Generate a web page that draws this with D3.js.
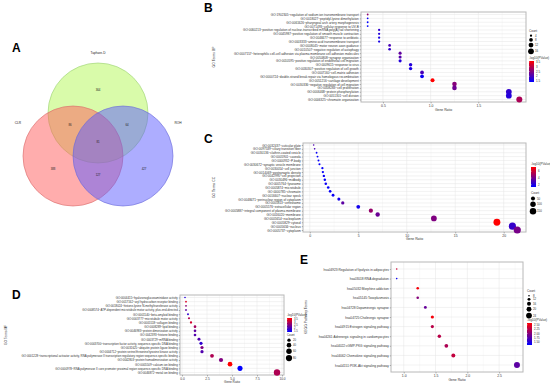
<!DOCTYPE html>
<html><head><meta charset="utf-8">
<script src="https://cdn.jsdelivr.net/npm/d3@7"></script>
<style>body{margin:0;background:#fff}svg{display:block}text{font-family:"Liberation Sans",Arial,sans-serif}</style>
</head><body><svg id="c" width="550" height="387"></svg>
<script>
// ---------- Venn (A) ----------
const vennSets = ["Taphare-D","CLR","ROH"];
const vennCounts = ["364","86","64","81","388","127","427"]; // green only, G∩R, G∩B, center, R only, R∩B, B only

// ---------- B : GO BP ----------
const bTerms = ["GO:1902305~regulation of sodium ion transmembrane transport","GO:0018027~peptidyl-lysine dimethylation","GO:0061626~pharyngeal arch artery morphogenesis","GO:0071493~cellular response to UV-B","GO:0060213~positive regulation of nuclear-transcribed mRNA poly(A) tail shortening","GO:0045987~positive regulation of smooth muscle contraction","GO:0046677~response to antibiotic","GO:0003333~amino acid transmembrane transport","GO:0008045~motor neuron axon guidance","GO:0010507~negative regulation of autophagy","GO:0007157~heterophilic cell-cell adhesion via plasma membrane cell adhesion molecules","GO:0050808~synapse organization","GO:0010595~positive regulation of endothelial cell migration","GO:0009615~response to virus","GO:0030307~positive regulation of cell growth","GO:0007160~cell-matrix adhesion","GO:0000724~double-strand break repair via homologous recombination","GO:0051216~cartilage development","GO:0030336~negative regulation of cell migration","GO:0008283~cell proliferation","GO:0006468~protein phosphorylation","GO:0051301~cell division","GO:0006325~chromatin organization"];
const bRatio = [0.34,0.34,0.34,0.34,0.46,0.46,0.46,0.46,0.57,0.57,0.68,0.68,0.68,0.79,0.79,0.91,0.91,1.02,1.25,1.25,1.82,1.82,1.93];
const bCount = [3,3,3,3,4,4,4,4,5,5,6,6,6,7,7,8,8,9,11,11,16,16,17];
const bLogP = [2.6,1.5,1.4,1.4,1.8,1.7,1.6,1.6,2.0,1.8,2.2,2.1,1.7,1.7,1.6,2.0,1.5,3.5,2.5,2.3,1.8,1.7,2.8];
const bXTicks = [0.5,1.0,1.5];
const bCountTicks = [4,8,12,16];
const bColorTicks = [3.5,3.0,2.5,2.0,1.5];

// ---------- C : GO CC ----------
const cTerms = ["GO:0032437~cuticular plate","GO:0097539~ciliary transition fiber","GO:0030136~clathrin-coated vesicle","GO:0005901~caveola","GO:0000932~P-body","GO:0030672~synaptic vesicle membrane","GO:0030054~cell junction","GO:0014069~postsynaptic density","GO:0042995~cell projection","GO:0030496~midbody","GO:0005764~lysosome","GO:0005874~microtubule","GO:0000785~chromatin","GO:0016607~nuclear speck","GO:0048471~perinuclear region of cytoplasm","GO:0005813~centrosome","GO:0005576~extracellular region","GO:0005887~integral component of plasma membrane","GO:0016020~membrane","GO:0005654~nucleoplasm","GO:0005829~cytosol","GO:0005634~nucleus","GO:0005737~cytoplasm"];
const cRatio = [0.4,0.5,0.7,0.8,0.9,1.0,1.3,1.35,1.45,1.55,1.65,1.9,2.1,2.4,3.0,3.4,5.0,6.3,7.0,12.8,19.3,20.9,21.4];
const cCount = [4,4,6,7,8,9,11,12,13,14,15,17,18,21,26,30,44,55,62,113,170,184,188];
const cLogP = [3.2,3.0,1.6,1.5,1.5,1.6,1.5,1.5,1.6,1.5,1.7,1.5,1.6,1.6,1.8,3.5,1.8,4.8,3.8,4.3,7.2,2.6,4.1];
const cXTicks = [0,5,10,15,20];
const cCountTicks = [50,100,150];
const cColorTicks = [6,4,2];

// ---------- D : GO MF ----------
const dTerms = ["GO:0004415~hyaluronoglucosaminidase activity","GO:0017162~aryl hydrocarbon receptor binding","GO:0018024~histone-lysine N-methyltransferase activity","GO:0008574~ATP-dependent microtubule motor activity, plus-end-directed","GO:0001540~beta-amyloid binding","GO:0003777~microtubule motor activity","GO:0005518~collagen binding","GO:0008289~lipid binding","GO:0046983~protein dimerization activity","GO:0042393~histone binding","GO:0003729~mRNA binding","GO:0003700~transcription factor activity, sequence-specific DNA binding","GO:0031625~ubiquitin protein ligase binding","GO:0004712~protein serine/threonine/tyrosine kinase activity","GO:0001228~transcriptional activator activity, RNA polymerase II transcription regulatory region sequence-specific binding","GO:0042803~protein homodimerization activity","GO:0005509~calcium ion binding","GO:0000978~RNA polymerase II core promoter proximal region sequence-specific DNA binding","GO:0046872~metal ion binding"];
const dRatio = [0.3,0.4,0.4,0.4,0.6,0.7,0.9,1.3,1.3,1.3,1.7,1.9,2.0,2.0,3.0,3.9,4.8,5.8,9.5];
const dCount = [3,4,4,4,5,6,8,11,11,11,15,17,18,18,26,34,42,51,84];
const dLogP = [1.7,3.3,2.6,2.2,1.8,2.9,3.2,2.8,2.2,2.1,2.1,1.8,2.5,2.1,2.9,2.5,3.6,1.4,2.9];
const dXTicks = [0.0,2.5,5.0,7.5,10.0];
const dCountTicks = [20,40,60,80];
const dColorTicks = [3.5,3.0,2.5,2.0,1.5];

// ---------- E : KEGG ----------
const eTerms = ["hsa04923:Regulation of lipolysis in adipocytes","hsa03018:RNA degradation","hsa05032:Morphine addiction","hsa05145:Toxoplasmosis","hsa04728:Dopaminergic synapse","hsa04725:Cholinergic synapse","hsa04915:Estrogen signaling pathway","hsa04261:Adrenergic signaling in cardiomyocytes","hsa04022:cGMP-PKG signaling pathway","hsa04062:Chemokine signaling pathway","hsa04151:PI3K-Akt signaling pathway"];
const eRatio = [0.89,0.89,1.22,1.22,1.34,1.45,1.45,1.56,1.67,1.78,2.78];
const eCount = [8,8,11,11,12,13,13,14,15,16,25];
const eLogP = [2.35,1.4,2.55,2.0,1.85,2.55,2.25,2.25,2.2,2.3,1.8];
const eXTicks = [1.0,1.5,2.0,2.5];
const eCountTicks = [8,12,16,20,24];
const eColorTicks = [2.50,2.25,2.00,1.75,1.50];

const svg = d3.select("#c");
const LBL = "#333";

function panelLetter(t,x,y){
  svg.append("text").attr("x",x).attr("y",y).text(t)
    .attr("font-family","Liberation Serif, Times New Roman, serif").attr("font-weight","bold").attr("font-size",12).attr("fill","#000");
}

// ---------- Venn drawing ----------
(function(){
  const g = svg.append("g");
  const circles = [
    {cx:98, cy:113, fill:"#b4f755", stroke:"#98d070"},
    {cx:73, cy:156, fill:"#ff5c5c", stroke:"#d86a6a"},
    {cx:123,cy:156, fill:"#5c5cff", stroke:"#6a6ad8"}
  ];
  g.selectAll("circle").data(circles).join("circle")
    .attr("cx",d=>d.cx).attr("cy",d=>d.cy).attr("r",50)
    .attr("fill",d=>d.fill).attr("fill-opacity",0.5)
    .attr("stroke",d=>d.stroke).attr("stroke-width",0.6);
  const setPos = [[98,54],[18,124],[178,124]];
  g.selectAll("text.set").data(vennSets).join("text").attr("class","set")
    .attr("x",(d,i)=>setPos[i][0]).attr("y",(d,i)=>setPos[i][1]).attr("text-anchor","middle")
    .attr("font-size",3.2).attr("fill","#222").text(d=>d);
  const numPos = [[98,91],[70,126],[127,126],[98,143],[53,170],[98,176],[144,170]];
  g.selectAll("text.num").data(vennCounts).join("text").attr("class","num")
    .attr("x",(d,i)=>numPos[i][0]).attr("y",(d,i)=>numPos[i][1]).attr("text-anchor","middle")
    .attr("font-size",2.8).attr("fill","#222").text(d=>d);
})();

// ---------- dot plot builder ----------
function dotPlot(o){
  const g = svg.append("g");
  const x = d3.scaleLinear().domain(o.xDomain).range([o.left,o.right]);
  const y = d3.scalePoint().domain(o.terms).range([o.top+o.pad,o.bottom-o.pad]);
  const col = d3.scaleLinear().domain(o.colorDomain).range(["#0000ff","#ff0000"]).interpolate(d3.interpolateRgb).clamp(true);
  const r = d3.scaleSqrt().domain(o.countDomain).range(o.rRange);
  g.append("rect").attr("x",o.left).attr("y",o.top).attr("width",o.right-o.left).attr("height",o.bottom-o.top).attr("fill","#fff");
  const tk = o.xTicks, step = tk[1]-tk[0];
  const minor = [];
  for(let v=tk[0]-step/2; v<=o.xDomain[1]; v+=step) if(v>=o.xDomain[0]) minor.push(v);
  g.selectAll("line.mn").data(minor).join("line").attr("x1",d=>x(d)).attr("x2",d=>x(d)).attr("y1",o.top).attr("y2",o.bottom).attr("stroke","#f0f0f0").attr("stroke-width",0.4);
  g.selectAll("line.mj").data(tk).join("line").attr("x1",d=>x(d)).attr("x2",d=>x(d)).attr("y1",o.top).attr("y2",o.bottom).attr("stroke","#e4e4e4").attr("stroke-width",0.5);
  g.selectAll("line.hy").data(o.terms).join("line").attr("x1",o.left).attr("x2",o.right).attr("y1",d=>y(d)).attr("y2",d=>y(d)).attr("stroke","#e4e4e4").attr("stroke-width",0.5);
  g.append("rect").attr("x",o.left).attr("y",o.top).attr("width",o.right-o.left).attr("height",o.bottom-o.top).attr("fill","none").attr("stroke","#b8b8b8").attr("stroke-width",1);
  const xa = g.append("g").attr("transform",`translate(0,${o.bottom})`).call(d3.axisBottom(x).tickValues(tk).tickSize(1.5).tickPadding(1).tickFormat(o.fmt));
  xa.select(".domain").remove();
  xa.selectAll("line").attr("stroke","#555").attr("stroke-width",0.4);
  xa.selectAll("text").attr("font-size",o.fs).attr("fill",LBL).attr("font-family","Liberation Sans, Arial");
  const ya = g.append("g").attr("transform",`translate(${o.left},0)`).call(d3.axisLeft(y).tickSize(1.2).tickPadding(1));
  ya.select(".domain").remove();
  ya.selectAll("line").attr("stroke","#555").attr("stroke-width",0.4);
  ya.selectAll("text").attr("font-size",o.yfs).attr("fill",LBL).attr("font-family","Liberation Sans, Arial");
  const data = o.terms.map((t,i)=>({t, v:o.ratio[i], c:o.count[i], p:o.logp[i]}));
  g.selectAll("circle.pt").data(data).join("circle").attr("class","pt")
    .attr("cx",d=>x(d.v)).attr("cy",d=>y(d.t)).attr("r",d=>r(d.c)).attr("fill",d=>col(d.p));
  g.append("text").attr("x",(o.left+o.right)/2).attr("y",o.bottom+o.xtOff).attr("text-anchor","middle").attr("font-size",o.fs).attr("fill",LBL).text("Gene Ratio");
  g.append("text").attr("transform",`translate(${o.ytX},${(o.top+o.bottom)/2}) rotate(-90)`).attr("text-anchor","middle").attr("font-size",o.fs).attr("fill",LBL).text(o.yTitle);
  function countLegend(lx,ly){
    g.append("text").attr("x",lx).attr("y",ly).attr("font-size",o.fs*0.9).attr("fill",LBL).text("Count");
    let cy = ly+2.5;
    o.countTicks.forEach(v=>{
      const rr = r(v); cy += Math.max(rr,1.2);
      g.append("circle").attr("cx",lx+2).attr("cy",cy).attr("r",rr).attr("fill","#000");
      g.append("text").attr("x",lx+6).attr("y",cy+1).attr("font-size",o.fs*0.85).attr("fill",LBL).text(v);
      cy += Math.max(rr,1.2)+1;
    });
  }
  function colorLegend(lx,ly){
    g.append("text").attr("x",lx).attr("y",ly).attr("font-size",o.fs*0.9).attr("fill",LBL).text("-log10(PValue)");
    const id = "grad"+o.yTitle.replace(/\W/g,"");
    const gr = svg.append("defs").append("linearGradient").attr("id",id).attr("x1",0).attr("x2",0).attr("y1",0).attr("y2",1);
    gr.append("stop").attr("offset","0%").attr("stop-color","#ff0000");
    gr.append("stop").attr("offset","100%").attr("stop-color","#0000ff");
    const by = ly+2, bh = o.barH;
    g.append("rect").attr("x",lx).attr("y",by).attr("width",5).attr("height",bh).attr("fill",`url(#${id})`);
    const cs = d3.scaleLinear().domain(o.colorLegDomain).range([by+bh,by]);
    o.colorTicks.forEach(v=>{
      g.append("line").attr("x1",lx).attr("x2",lx+1).attr("y1",cs(v)).attr("y2",cs(v)).attr("stroke","#fff").attr("stroke-width",0.3);
      g.append("text").attr("x",lx+7).attr("y",cs(v)+1).attr("font-size",o.fs*0.85).attr("fill",LBL).text(o.cfmt?o.cfmt(v):v);
    });
  }
  if(o.countFirst){ countLegend(o.lx,o.ly1); colorLegend(o.lx,o.ly2); }
  else { colorLegend(o.lx,o.ly1); countLegend(o.lx,o.ly2); }
}

panelLetter("A",12,52);
panelLetter("B",204,12);
panelLetter("C",204,143);
panelLetter("D",12,299);
panelLetter("E",300,264);

dotPlot({terms:bTerms, ratio:bRatio, count:bCount, logp:bLogP, xTicks:bXTicks, countTicks:bCountTicks, colorTicks:bColorTicks,
  xDomain:[0.27,2.0], left:361, right:526, top:12, bottom:102, pad:2.5, colorDomain:[1.4,3.5], colorLegDomain:[1.4,3.6],
  countDomain:[3,17], rRange:[0.9,3.0], fs:3.4, yfs:3.1, ytX:215, yTitle:"GO Terms BP", xtOff:9, fmt:d3.format(".1f"),
  countFirst:true, lx:529, ly1:32, ly2:59, barH:21});

dotPlot({terms:cTerms, ratio:cRatio, count:cCount, logp:cLogP, xTicks:cXTicks, countTicks:cCountTicks, colorTicks:cColorTicks,
  xDomain:[-0.7,22.3], left:303, right:526, top:143, bottom:232, pad:2, colorDomain:[1.4,7.2], colorLegDomain:[1.3,7.3],
  countDomain:[4,188], rRange:[0.8,3.6], fs:3.4, yfs:3.1, ytX:215, yTitle:"GO Terms CC", xtOff:8, fmt:d3.format("d"),
  countFirst:false, lx:531, ly1:165, ly2:194, barH:20});

dotPlot({terms:dTerms, ratio:dRatio, count:dCount, logp:dLogP, xTicks:dXTicks, countTicks:dCountTicks, colorTicks:dColorTicks,
  xDomain:[-0.2,10.2], left:180, right:284, top:295, bottom:375, pad:2.5, colorDomain:[1.4,3.6], colorLegDomain:[1.3,3.7],
  countDomain:[3,84], rRange:[0.8,3.2], fs:3.2, yfs:2.9, ytX:7, yTitle:"GO Terms MF", xtOff:8, fmt:d3.format(".1f"),
  countFirst:false, lx:287, ly1:316, ly2:336, barH:14});

dotPlot({terms:eTerms, ratio:eRatio, count:eCount, logp:eLogP, xTicks:eXTicks, countTicks:eCountTicks, colorTicks:eColorTicks,
  xDomain:[0.80,2.875], left:391, right:523, top:262, bottom:372, pad:7, colorDomain:[1.35,2.6], colorLegDomain:[1.35,2.6],
  countDomain:[8,25], rRange:[0.8,3.0], fs:3.4, yfs:3.2, ytX:307, yTitle:"KEGG Pathway Terms", xtOff:9, fmt:d3.format(".1f"),
  countFirst:true, lx:527, ly1:292, ly2:321, barH:22, cfmt:d3.format(".2f")});
</script></body></html>
